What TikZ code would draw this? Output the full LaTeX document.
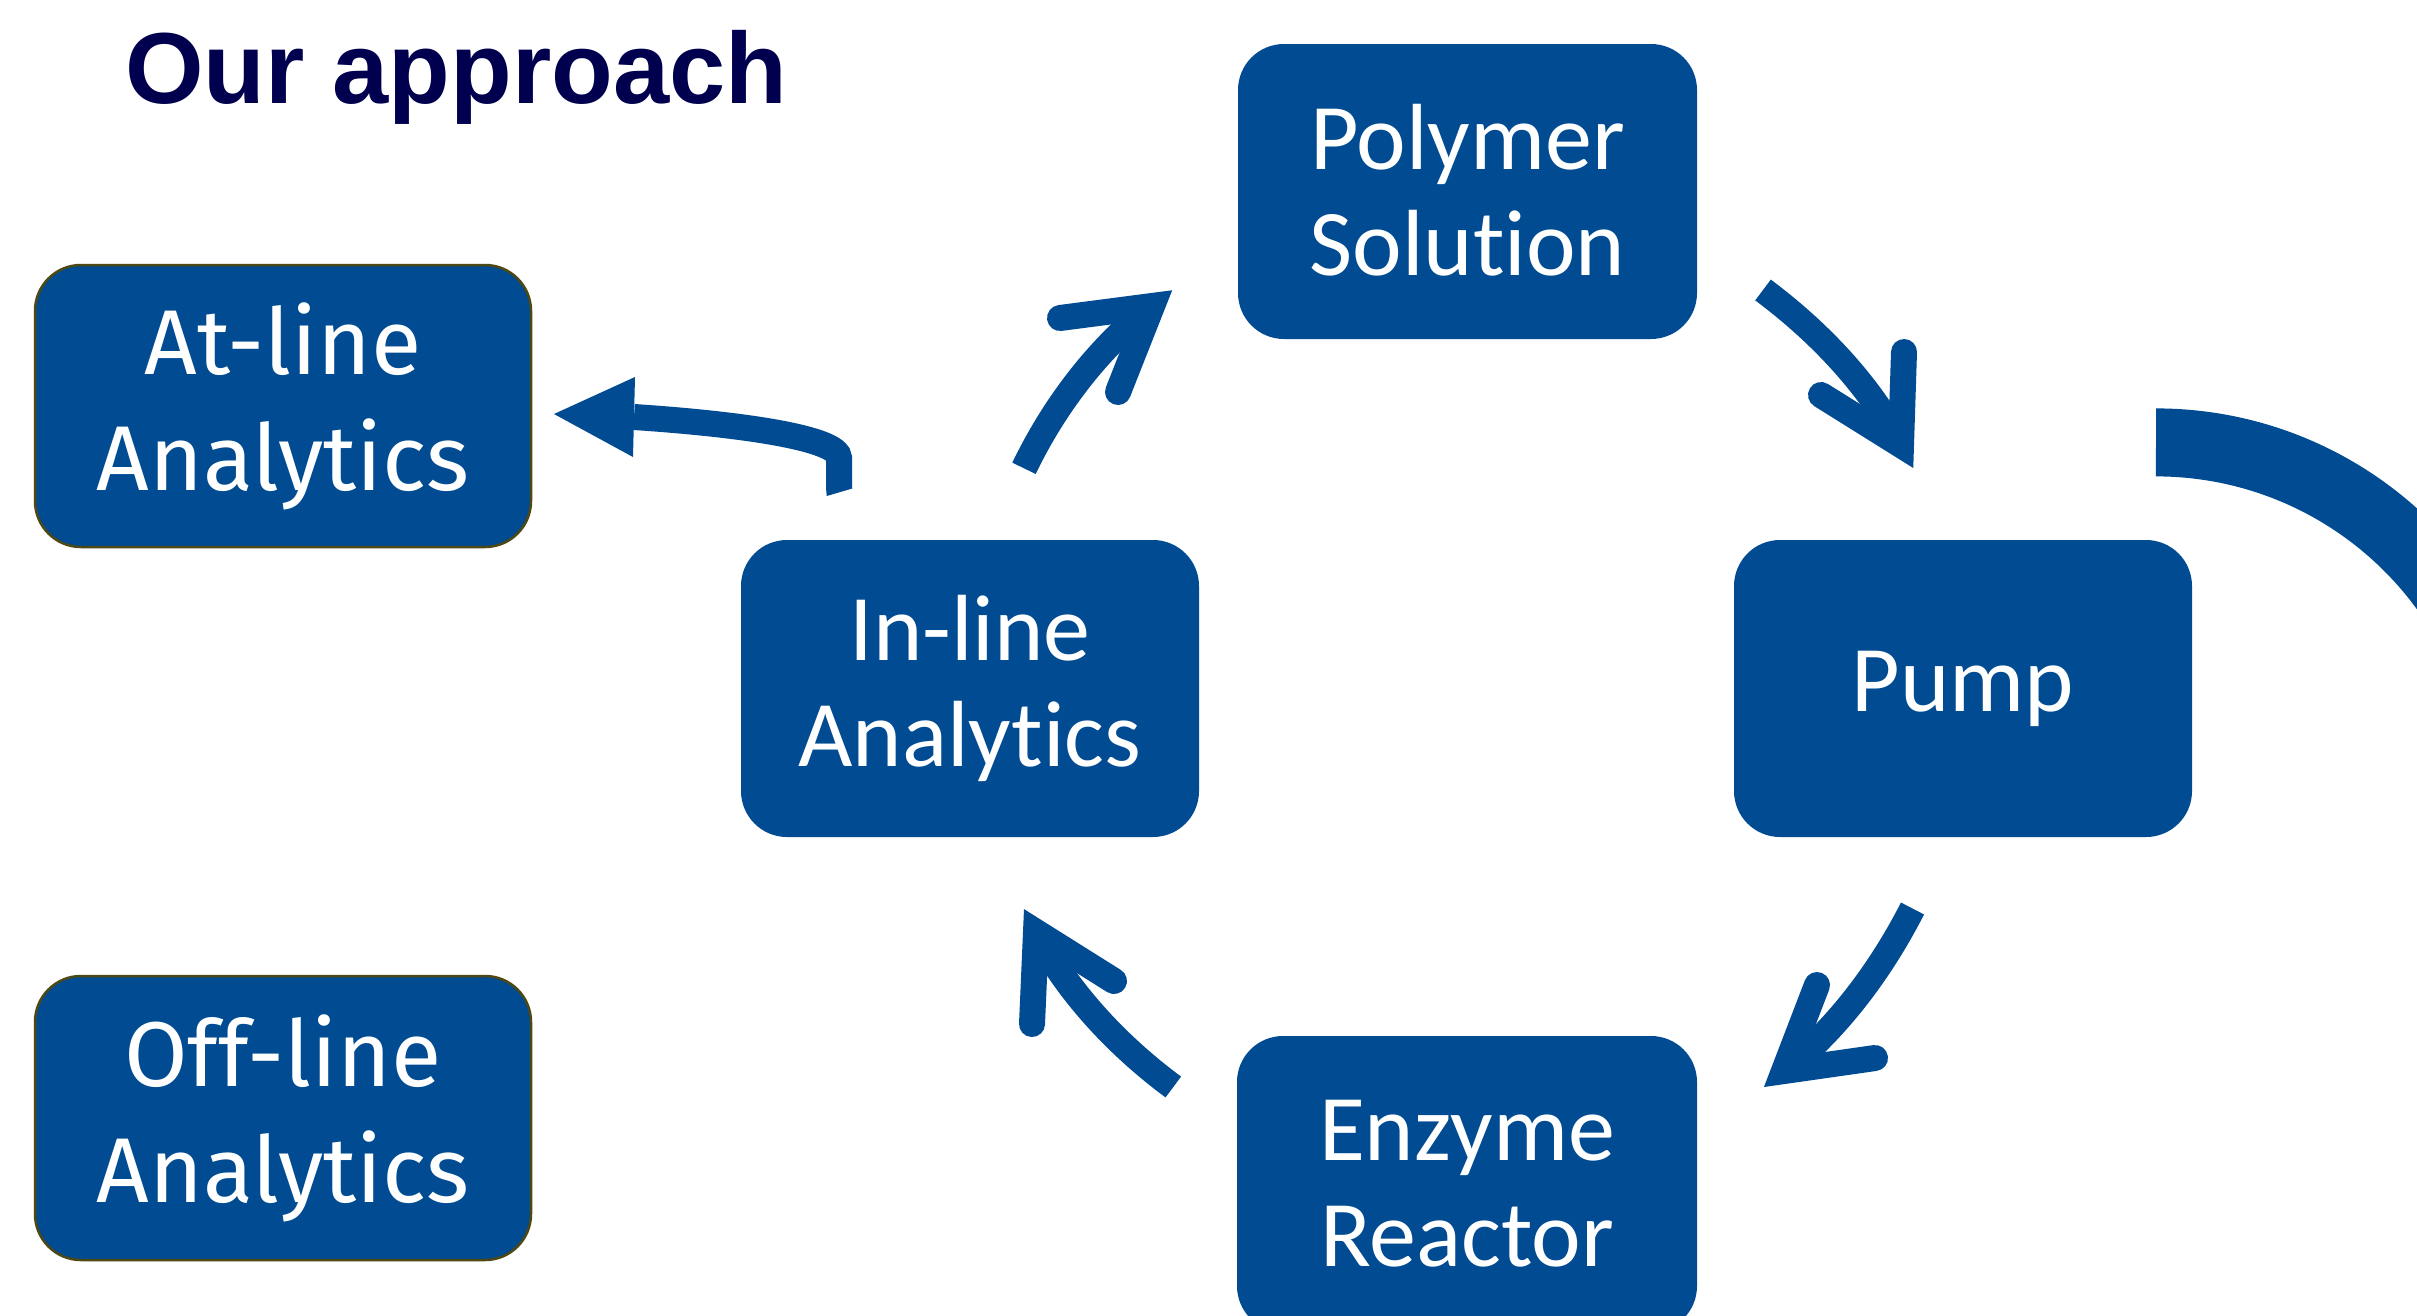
\documentclass[tikz,border=0pt]{standalone}
\usepackage{fontspec}
\setmainfont{Carlito}[Ligatures=NoCommon]
\newfontfamily\aptosfont{Fira Sans}[Ligatures=NoCommon]
\newfontfamily\titlefont{Liberation Sans}
\definecolor{boxblue}{RGB}{0,75,146}
\definecolor{titlenavy}{RGB}{0,0,78}
\definecolor{oliveedge}{RGB}{78,72,20}
\tikzset{
  box/.style={rectangle, rounded corners=46pt, fill=boxblue, text=white, align=center, inner sep=0pt, outer sep=0pt},
  calib/.style={font=\fontsize{94}{106}\selectfont},
  aptos/.style={font=\aptosfont\fontsize{92}{116}\selectfont},
  framed/.style={draw=oliveedge, line width=2.5pt},
  titletext/.style={anchor=base west, inner sep=0pt, text=titlenavy, font=\titlefont\bfseries\fontsize{101}{110}\selectfont},
  shaft/.style={draw=boxblue, line width=26pt, line cap=butt},
  barbs/.style={draw=boxblue, line width=26pt, line cap=round, line join=miter, miter limit=20},
}
\begin{document}
\begin{tikzpicture}[x=1pt,y=-1pt]
\path[use as bounding box, fill=white] (0,0) rectangle (2417,1315);
\clip (0,0) rectangle (2417,1315);

% title
\node[titletext] (title) at (125,103) {Our approach};

% boxes
\node[box, calib, minimum width=459pt, minimum height=295pt] (poly) at (1467.5,191.5) {\raisebox{4pt}{Polymer}\\\raisebox{4pt}{Solution}};
\node[box, aptos, framed, minimum width=496pt, minimum height=282pt] (atl) at (283,406) {At-line\\Analytics};
\node[box, calib, minimum width=458pt, minimum height=297pt] (inl) at (970,688.5) {In-line\\Analytics};
\node[box, calib, minimum width=458pt, minimum height=297pt] (pump) at (1963,688.5) {Pump};
\node[box, calib, minimum width=460pt, minimum height=296pt] (enz) at (1467,1184) {Enzyme\\Reactor};
\node[box, aptos, framed, minimum width=496pt, minimum height=284pt] (offl) at (283,1118) {Off-line\\Analytics};

% arrow A: Polymer -> Pump
\coordinate (aS) at (1763,290);
\coordinate (aV) at (1901,445);
\coordinate (aB1) at (1904,352);
\coordinate (aB2) at (1821,395);
\draw[shaft] (aS) .. controls (1818,331) and (1869,384) .. (aV);
\draw[barbs] (aB1) -- (aV) -- (aB2);

% arrow B: Pump -> Enzyme
\coordinate (bS) at (1912.5,908.5);
\coordinate (bV) at (1784,1071);
\coordinate (bB1) at (1817,985);
\coordinate (bB2) at (1875,1058);
\draw[shaft] (bS) .. controls (1881,970) and (1838,1028) .. (bV);
\draw[barbs] (bB1) -- (bV) -- (bB2);

% arrow C: Enzyme -> In-line
\coordinate (cS) at (1173.3,1087);
\coordinate (cV) at (1036,932);
\coordinate (cB1) at (1032,1024);
\coordinate (cB2) at (1114,981);
\draw[shaft] (cS) .. controls (1118,1046) and (1068,993) .. (cV);
\draw[barbs] (cB1) -- (cV) -- (cB2);

% arrow D: In-line -> Polymer
\coordinate (dS) at (1024,468.3);
\coordinate (dV) at (1152,306);
\coordinate (dB1) at (1060,318);
\coordinate (dB2) at (1118,392);
\draw[shaft] (dS) .. controls (1054,406) and (1098,348) .. (dV);
\draw[barbs] (dB1) -- (dV) -- (dB2);

% arrow E: In-line -> At-line
\coordinate (eS) at (839,488);
\coordinate (eK) at (839,458);
\coordinate (eE) at (634,417);
\coordinate (eT) at (554,414);
\coordinate (eU) at (635,377);
\coordinate (eL) at (633,457);
\draw[shaft] (eS) -- (eK) .. controls (839,438) and (740,424) .. (eE);
\fill[boxblue] (826,487.5) -- (852,487.5) -- (852.3,488.5) -- (826.7,496) -- cycle;
\fill[boxblue] (eT) -- (eU) -- (eL) -- cycle;

% large arc at right edge
\coordinate (arcC) at (2156,799);
\draw[draw=boxblue, line width=68pt, line cap=butt] (2156,442.4) arc[start angle=-90, end angle=-10, radius=356.6];
\end{tikzpicture}
\end{document}
